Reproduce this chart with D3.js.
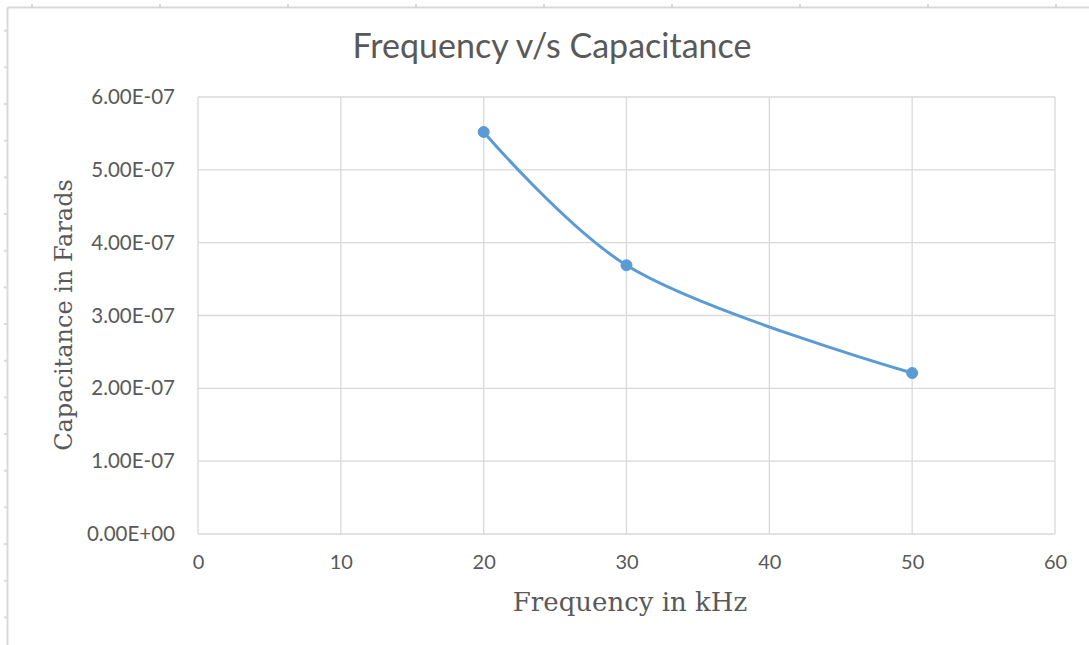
<!DOCTYPE html>
<html>
<head>
<meta charset="utf-8">
<script src="https://cdn.jsdelivr.net/npm/d3@7"></script>
<style>
  html, body { margin: 0; padding: 0; background: #fff; }
  svg { display: block; }
</style>
</head>
<body>
<svg id="chart" width="1089" height="645"></svg>
<script>
// ---- data ----
const frequencies = [20, 30, 50];                 // kHz
const capacitances = [5.52e-7, 3.69e-7, 2.21e-7]; // Farads
const xTicks = [0, 10, 20, 30, 40, 50, 60];
const yTicks = [0, 1e-7, 2e-7, 3e-7, 4e-7, 5e-7, 6e-7];
const yTickLabels = ["0.00E+00", "1.00E-07", "2.00E-07", "3.00E-07", "4.00E-07", "5.00E-07", "6.00E-07"];
const titleText = "Frequency v/s Capacitance";
const xTitle = "Frequency in kHz";
const yTitle = "Capacitance in Farads";

// ---- layout ----
const W = 1089, H = 645;
const plot = { left: 198, right: 1055, top: 97, bottom: 534 };
const svg = d3.select("#chart");

// spreadsheet frame around the chart
const frameColor = "#d9d9d9";
svg.append("line").attr("x1", 7.5).attr("x2", W).attr("y1", 7.5).attr("y2", 7.5)
  .attr("stroke", frameColor).attr("stroke-width", 2);
svg.append("line").attr("x1", 7.5).attr("x2", 7.5).attr("y1", 7.5).attr("y2", H)
  .attr("stroke", frameColor).attr("stroke-width", 2);
const topMarks = d3.range(32, W, 128);
svg.selectAll(".tm").data(topMarks).enter().append("line")
  .attr("x1", d => d).attr("x2", d => d).attr("y1", 4).attr("y2", 7)
  .attr("stroke", frameColor).attr("stroke-width", 2);
const leftMarks = d3.range(30.7, H, 36.67);
svg.selectAll(".lm").data(leftMarks).enter().append("line")
  .attr("x1", 4).attr("x2", 7).attr("y1", d => d).attr("y2", d => d)
  .attr("stroke", frameColor).attr("stroke-width", 2);

// ---- scales ----
const x = d3.scaleLinear().domain([0, 60]).range([plot.left, plot.right]);
const y = d3.scaleLinear().domain([0, 6e-7]).range([plot.bottom, plot.top]);

// gridlines
const gridColor = "#d9d9d9";
svg.append("g").selectAll("line").data(xTicks).enter().append("line")
  .attr("x1", d => x(d)).attr("x2", d => x(d))
  .attr("y1", plot.top).attr("y2", plot.bottom)
  .attr("stroke", gridColor).attr("stroke-width", 1.3);
svg.append("g").selectAll("line").data(yTicks).enter().append("line")
  .attr("x1", plot.left).attr("x2", plot.right)
  .attr("y1", d => y(d)).attr("y2", d => y(d))
  .attr("stroke", gridColor).attr("stroke-width", 1.3);

// axes (labels only, via d3 axes)
const labelColor = "#595959";
const sans = "Lato, 'Open Sans', sans-serif";
const serif = "'DejaVu Serif', 'Liberation Serif', serif";
const xAxis = d3.axisBottom(x).tickValues(xTicks).tickSize(0).tickPadding(0).tickFormat(d3.format("d"));
const gx = svg.append("g").attr("transform", `translate(0,${plot.bottom + 20})`).call(xAxis);
gx.select(".domain").remove();
gx.selectAll("text").attr("fill", labelColor).attr("font-family", sans)
  .attr("font-size", 20).attr("dy", "0.35em").attr("y", 8);

const yAxis = d3.axisLeft(y).tickValues(yTicks).tickSize(0).tickPadding(0)
  .tickFormat((d, i) => yTickLabels[i]);
const gy = svg.append("g").attr("transform", `translate(${plot.left - 23},0)`).call(yAxis);
gy.select(".domain").remove();
gy.selectAll("text").attr("fill", labelColor).attr("font-family", sans)
  .attr("font-size", 20.5);

// line
const pts = frequencies.map((f, i) => [f, capacitances[i]]);
const lineColor = "#5b9bd5";
svg.append("path").datum(pts)
  .attr("fill", "none").attr("stroke", lineColor).attr("stroke-width", 3)
  .attr("stroke-linecap", "round")
  .attr("d", d3.line().x(d => x(d[0])).y(d => y(d[1])).curve(d3.curveCatmullRom.alpha(0.5)));
svg.selectAll(".pt").data(pts).enter().append("circle")
  .attr("cx", d => x(d[0])).attr("cy", d => y(d[1])).attr("r", 5.5)
  .attr("fill", lineColor).attr("stroke", lineColor).attr("stroke-width", 1);

// titles
svg.append("text").attr("x", 552).attr("y", 58).attr("text-anchor", "middle")
  .attr("font-family", sans).attr("font-size", 34)
  .attr("fill", labelColor).text(titleText);
svg.append("text").attr("x", 630).attr("y", 611).attr("text-anchor", "middle")
  .attr("font-family", serif).attr("font-size", 26)
  .attr("fill", labelColor).text(xTitle);
svg.append("text").attr("transform", "translate(72,315) rotate(-90)").attr("text-anchor", "middle")
  .attr("font-family", serif).attr("font-size", 24)
  .attr("fill", labelColor).text(yTitle);
</script>
</body>
</html>
